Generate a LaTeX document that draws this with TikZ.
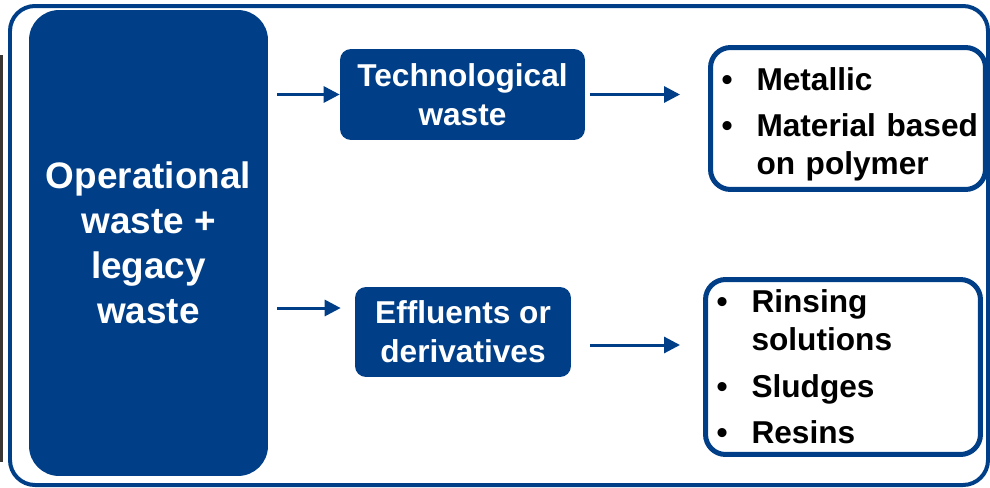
\documentclass[tikz,border=0pt]{standalone}
\usepackage{fontspec}
\setmainfont{Liberation Sans}
\usetikzlibrary{arrows.meta}
\definecolor{wasteblue}{HTML}{003F87}
\definecolor{edgeshade}{HTML}{3A3633}
\newcommand\wb{\hspace*{0.12cm}\makebox[0.7cm][l]{\textbullet}}
\newcommand\wi{\hspace*{0.82cm}}

\begin{document}
\begin{tikzpicture}[x=0.02cm,y=-0.02cm,
  bluebox/.style={fill=wasteblue,text=white,font=\bfseries,align=center,inner sep=0pt},
  listbox/.style={draw=wasteblue,line width=0.1cm,rounded corners=0.4cm,text=black,
    text width=5.3cm,align=left,inner sep=0pt,
    font=\bfseries\fontsize{18}{21.5}\selectfont},
  flow/.style={draw=wasteblue,line width=0.06cm,-{Triangle[length=0.32cm,width=0.32cm]}}]
\useasboundingbox (0,0) rectangle (990,487);
\fill[edgeshade] (0,55) rectangle (3,462);
\draw[wasteblue,line width=0.08cm,rounded corners=0.5cm] (10,6) rectangle (988,485);

\node[bluebox,rounded corners=0.6cm,minimum width=4.78cm,minimum height=9.32cm,
  font=\bfseries\fontsize{21}{25.6}\selectfont] (src) at (148.5,243)
  {Operational\\waste +\\legacy\\waste};
\node[bluebox,rounded corners=0.22cm,minimum width=4.9cm,minimum height=1.82cm,
  font=\bfseries\fontsize{18}{22}\selectfont] (tech) at (462.5,94.5)
  {Technological\\waste};
\node[bluebox,rounded corners=0.22cm,minimum width=4.32cm,minimum height=1.8cm,
  font=\bfseries\fontsize{18}{22}\selectfont] (eff) at (463,332)
  {Effluents or\\derivatives};

% lists, a little room left under the first one
\node[listbox,minimum width=5.5cm,minimum height=2.84cm] (metal) at (848,118.5)
  {\wb Metallic\\[5pt]\wb Material based\\\wi on polymer\\[-24.5pt]\mbox{}};
\node[listbox,minimum width=5.5cm,minimum height=3.5cm] (sludge) at (843,367)
  {\wb Rinsing\\\wi solutions\\[5pt]\wb Sludges\\[5pt]\wb Resins};

\coordinate (effin) at ([yshift=0.48cm]eff.west);
\coordinate (effout) at ([yshift=-0.26cm]eff.east);
\draw[flow,shorten <=0.18cm] (src.east |- tech.west) -- (tech.west);
\draw[flow,shorten <=0.1cm,shorten >=0.56cm] (tech.east) -- (tech.east -| metal.west);
\draw[flow,shorten <=0.18cm,shorten >=0.28cm] (effin -| src.east) -- (effin);
\draw[flow,shorten <=0.38cm,shorten >=0.46cm] (effout) -- (effout -| sludge.west);
\end{tikzpicture}
\end{document}
